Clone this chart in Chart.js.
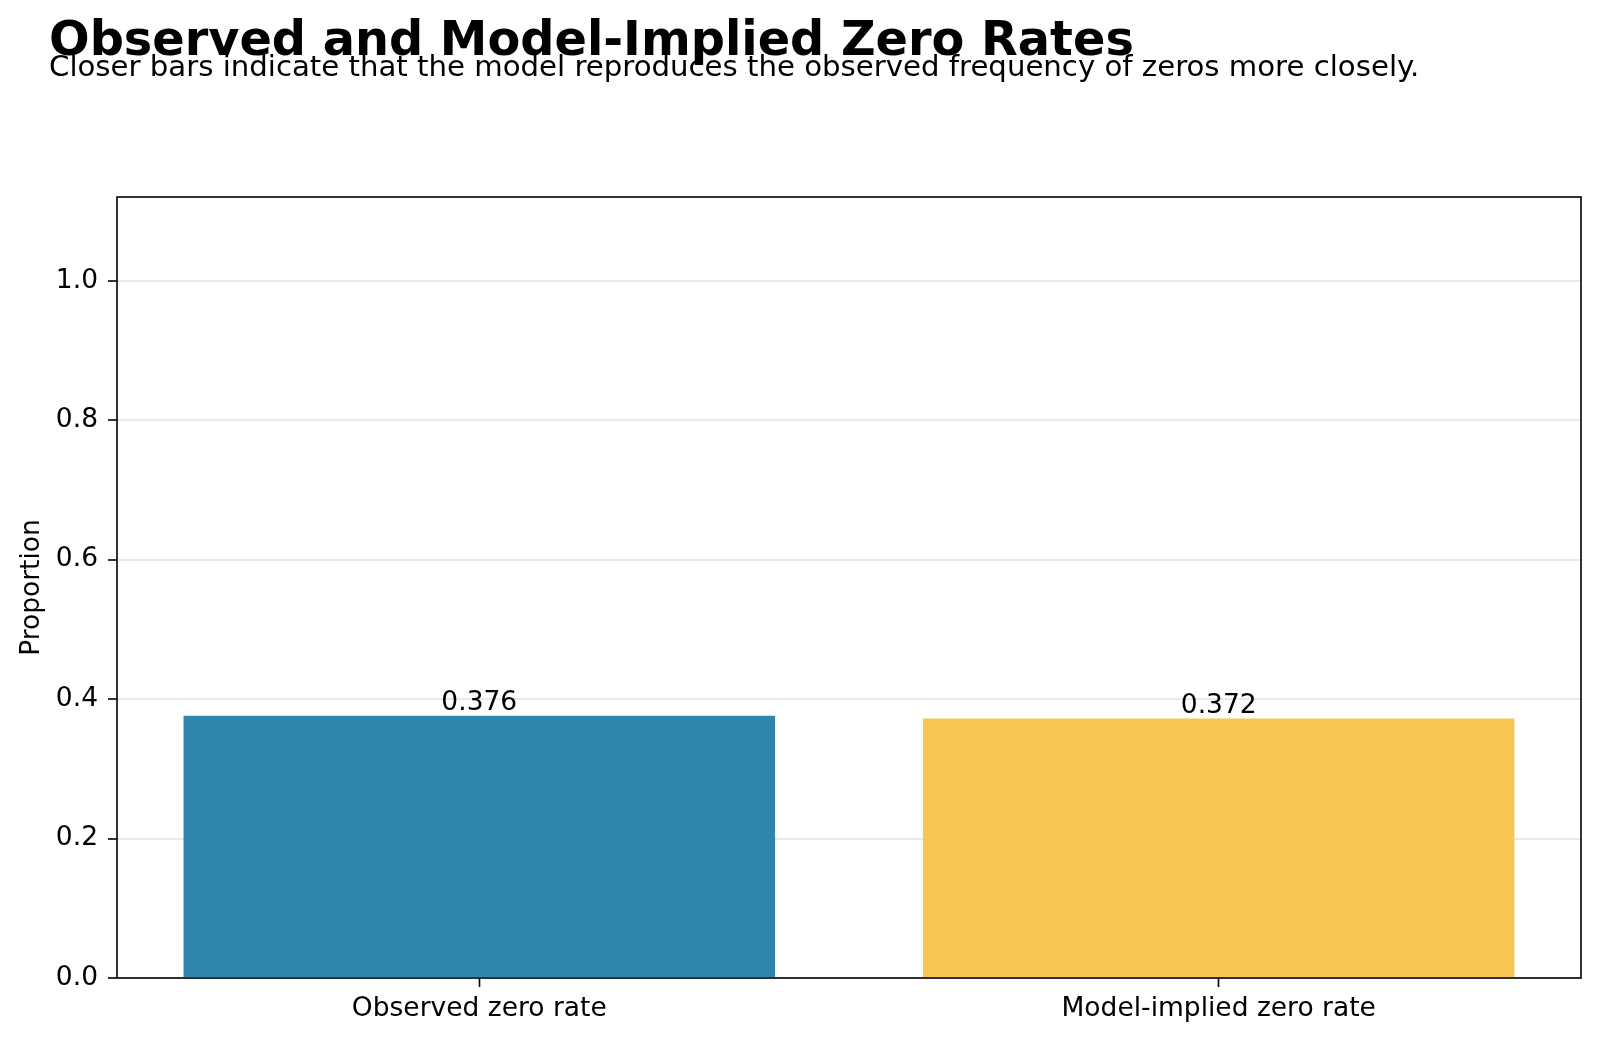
<!DOCTYPE html>
<html lang="en">
<head>
  <meta charset="UTF-8" />
  <title>Observed and Model-Implied Zero Rates</title>
  <script src="https://cdn.jsdelivr.net/npm/chart.js"></script>
  <style>
    body { margin: 0; background: #fff; font-family: "DejaVu Sans", sans-serif; }
    #wrap { position: relative; width: 1600px; height: 1042px; }
    #title { position: absolute; left: 49px; top: 14.5px; font-size: 47.8px; font-weight: bold; line-height: 1; white-space: nowrap; color: #000; }
    #subtitle { position: absolute; left: 49px; top: 51.5px; font-size: 29.2px; line-height: 1; white-space: nowrap; color: #000; }
    #chartBox { position: absolute; left: 0; top: 0; width: 1600px; height: 1042px; }
  </style>
</head>
<body>
  <div id="wrap">
    <div id="chartBox"><canvas id="zeroChart"></canvas></div>
    <div id="title">Observed and Model-Implied Zero Rates</div>
    <div id="subtitle">Closer bars indicate that the model reproduces the observed frequency of zeros more closely.</div>
  </div>

  <script>
    // values
    const categories = ['Observed zero rate', 'Model-implied zero rate'];
    const zeroRates = [0.376, 0.372];
    const categoryPositions = [0, 1];
    const yTicks = [0, 0.2, 0.4, 0.6, 0.8, 1.0];
    const yLabel = 'Proportion';

    const font = { family: 'DejaVu Sans', size: 26.5 };

    // black frame round the plot, like matplotlib spines
    const frame = {
      id: 'frame',
      afterDraw(chart) {
        const { ctx, chartArea: a } = chart;
        ctx.save();
        ctx.strokeStyle = '#000';
        ctx.lineWidth = 1.6;
        ctx.strokeRect(a.left, a.top, a.right - a.left, a.bottom - a.top);
        ctx.restore();
      }
    };

    // value printed above each bar
    const barValues = {
      id: 'barValues',
      afterDatasetsDraw(chart) {
        const { ctx } = chart;
        const meta = chart.getDatasetMeta(0);
        ctx.save();
        ctx.font = '26.5px "DejaVu Sans"';
        ctx.fillStyle = '#000';
        ctx.textAlign = 'center';
        ctx.textBaseline = 'alphabetic';
        meta.data.forEach((bar, i) => {
          ctx.fillText(zeroRates[i].toFixed(3), bar.x, bar.y - 6);
        });
        ctx.restore();
      }
    };

    new Chart(document.getElementById('zeroChart'), {
      type: 'bar',
      data: {
        datasets: [{
          label: yLabel,
          data: categoryPositions.map((x, i) => ({ x: x, y: zeroRates[i] })),
          backgroundColor: ['#2E87AB', '#F7C551'],
          borderWidth: 0,
          barPercentage: 0.8,
          categoryPercentage: 1.0
        }]
      },
      options: {
        responsive: true,
        maintainAspectRatio: false,
        animation: false,
        layout: { padding: { left: 0, right: 19, top: 197, bottom: 0 } },
        plugins: {
          legend: { display: false },
          tooltip: { enabled: false }
        },
        scales: {
          x: {
            type: 'linear',
            min: -0.49,
            max: 1.49,
            offset: false,
            z: 1,
            border: { display: false },
            afterBuildTicks: s => { s.ticks = categoryPositions.map(v => ({ value: v })); },
            afterFit: s => { s.height = 64; },
            grid: { offset: false, drawOnChartArea: false, drawTicks: true, tickLength: 9, tickColor: '#000', tickWidth: 1.6 },
            ticks: {
              font: font, color: '#000', padding: 6, maxRotation: 0, autoSkip: false,
              callback: v => categories[categoryPositions.indexOf(v)]
            }
          },
          y: {
            min: 0,
            max: 1.12,
            z: 1,
            border: { display: false },
            afterBuildTicks: s => { s.ticks = yTicks.map(v => ({ value: v })); },
            afterFit: s => { s.width = 117; },
            grid: { color: 'rgba(200,200,200,0.4)', lineWidth: 2, tickLength: 9, tickColor: '#000', tickWidth: 1.6 },
            ticks: { font: font, color: '#000', padding: 10, callback: v => v.toFixed(1) },
            title: { display: true, text: yLabel, font: font, color: '#000', padding: { top: 16, bottom: 0 } }
          }
        }
      },
      plugins: [frame, barValues]
    });
  </script>
</body>
</html>
